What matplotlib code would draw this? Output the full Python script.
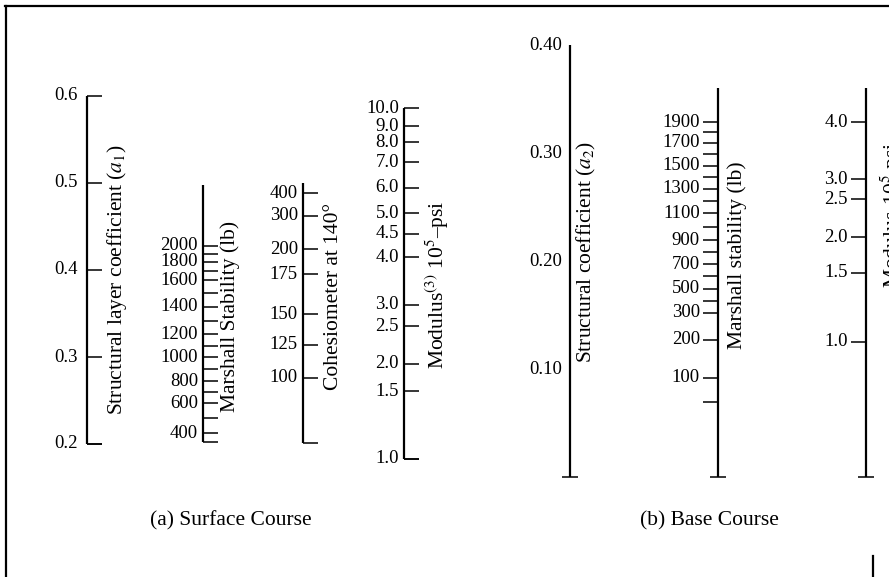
import numpy as np
import matplotlib.pyplot as plt
from matplotlib.lines import Line2D

plt.rcParams['font.family'] = ['Liberation Serif', 'DejaVu Serif']
plt.rcParams['mathtext.fontset'] = 'stix'

# ---- (a) surface course: every scale read against the a1 coefficient ----
a1_values = [0.2, 0.3, 0.4, 0.5, 0.6]

ms_a_values = [2000, 1800, 1600, 1400, 1200, 1000, 800, 600, 400]
ms_a_coef = [0.4276, 0.4092, 0.3885, 0.3575, 0.3264, 0.3000, 0.2724, 0.2471, 0.2126]
ms_a_minor = [1900, 1700, 1500, 1300, 1100, 900, 700, 500]

coh_values = [400, 300, 200, 175, 150, 125, 100]
coh_coef = [0.4885, 0.4621, 0.4241, 0.3954, 0.3494, 0.3138, 0.2759]

mod_a_labels = ['10.0', '9.0', '8.0', '7.0', '6.0', '5.0', '4.5', '4.0', '3.0', '2.5', '2.0', '1.5', '1.0']
mod_a_coef = [0.5862, 0.5655, 0.5471, 0.5241, 0.4943, 0.4655, 0.4414, 0.4149,
              0.3598, 0.3356, 0.2920, 0.2609, 0.1828]

# ---- (b) base course: every scale read against the a2 coefficient ----
a2_values = [0.10, 0.20, 0.30, 0.40]

ms_b_labels = ['1900', '1700', '1500', '1300', '1100', '900', '700', '500', '300', '200', '100', '']
ms_b_values = [1900, 1700, 1500, 1300, 1100, 900, 700, 500, 300, 200, 100, 0]
ms_b_coef = [0.3287, 0.3093, 0.2880, 0.2667, 0.2444, 0.2194, 0.1972, 0.1741,
             0.1519, 0.1269, 0.0917, 0.0694]
ms_b_minor = [1800, 1600, 1400, 1200, 1000, 800, 600, 400]

mod_b_labels = ['4.0', '3.0', '2.5', '2.0', '1.5', '1.0']
mod_b_coef = [0.3287, 0.2759, 0.2574, 0.2222, 0.1889, 0.1250]


def scale_pos(vals, known_vals, known_coef):
    order = np.argsort(known_vals)
    return np.interp(vals, np.array(known_vals)[order], np.array(known_coef)[order])


fig = plt.figure(figsize=(8.89, 5.77), dpi=100)
ax_a = fig.add_axes([0, 0, 1, 1])
ax_b = fig.add_axes([0, 0, 1, 1])
for ax in (ax_a, ax_b):
    ax.set_xlim(0, 889)
    ax.axis('off')
    ax.patch.set_alpha(0)
# a1: 0.6 -> 96 px, 0.2 -> 444 px ; a2: 0.40 -> 45 px, 0.10 -> 368 px
ax_a.set_ylim(0.6 - 481 / 870, 0.6 + 96 / 870)
ax_b.set_ylim(0.4 - 532 / 1080, 0.4 + 45 / 1080)

FS = 13.5     # tick numbers
FS_T = 15.5   # scale titles and captions
LW_SPINE = 1.6
LW_TICK = 1.1


def draw_scale(ax, x, top, bottom, pos, labels, tick_side=1, ticklen=15,
               minor=None, cap='side', label_gap=5):
    ax.plot([x, x], [bottom, top], color='k', lw=LW_SPINE, solid_capstyle='butt')
    ax.hlines(pos, x, x + tick_side * ticklen, color='k', lw=LW_TICK)
    if minor is not None:
        ax.hlines(minor, x, x + tick_side * ticklen, color='k', lw=LW_TICK)
    if cap == 'center':
        ax.hlines([bottom], x - 8, x + 8, color='k', lw=LW_TICK)
    elif cap == 'side':
        ax.hlines([bottom], x, x + tick_side * ticklen, color='k', lw=LW_TICK)
    lx = x - label_gap if tick_side > 0 else x - ticklen - label_gap + 2
    for p, lab in zip(pos, labels):
        ax.text(lx, p, lab, ha='right', va='center', fontsize=FS)


# (a) Surface course
draw_scale(ax_a, 87, 0.6, 0.2, a1_values, ['%.1f' % v for v in a1_values], label_gap=9)
ax_a.text(117, 0.3885, r'Structural layer coefficient ($a_1$)', rotation=90,
          ha='center', va='center', fontsize=FS_T)

draw_scale(ax_a, 203, 0.4977, 0.2023, ms_a_coef, [str(v) for v in ms_a_values],
           minor=scale_pos(ms_a_minor, ms_a_values, ms_a_coef))
ax_a.text(230, 0.347, 'Marshall Stability (lb)', rotation=90,
          ha='center', va='center', fontsize=FS_T)

draw_scale(ax_a, 303, 0.5, 0.2011, coh_coef, [str(v) for v in coh_values])
ax_a.text(333, 0.369, 'Cohesiometer at 140°', rotation=90,
          ha='center', va='center', fontsize=FS_T)

draw_scale(ax_a, 404, mod_a_coef[0], mod_a_coef[-1], mod_a_coef, mod_a_labels)
ax_a.text(437, 0.383, r'Modulus$^{(3)}$ 10$^5$–psi', rotation=90,
          ha='center', va='center', fontsize=FS_T)

# (b) Base course
draw_scale(ax_b, 570, 0.40, 0.0, a2_values, ['%.2f' % v for v in a2_values],
           ticklen=0, cap='center', label_gap=8)
ax_b.text(586, 0.2083, r'Structural coefficient ($a_2$)', rotation=90,
          ha='center', va='center', fontsize=FS_T)

draw_scale(ax_b, 718, 0.360, 0.0, ms_b_coef, ms_b_labels, tick_side=-1,
           minor=scale_pos(ms_b_minor, ms_b_values, ms_b_coef), cap='center')
ax_b.text(737, 0.2056, 'Marshall stability (lb)', rotation=90,
          ha='center', va='center', fontsize=FS_T)

draw_scale(ax_b, 866, 0.360, 0.0, mod_b_coef, mod_b_labels, tick_side=-1, cap='center')
ax_b.text(878, 0.2426, r'Modulus-10$^5$ psi', rotation=90,
          ha='left', va='center', fontsize=FS_T)

# captions
fig.text(231 / 889, 1 - 521 / 577, '(a) Surface Course', ha='center', va='center', fontsize=FS_T)
fig.text(709 / 889, 1 - 521 / 577, '(b) Base Course', ha='center', va='center', fontsize=FS_T)

# page frame fragments
fig.add_artist(Line2D([5 / 889, 1], [1 - 6 / 577, 1 - 6 / 577], color='k', lw=1.6,
                      transform=fig.transFigure))
fig.add_artist(Line2D([6 / 889, 6 / 889], [0, 1 - 6 / 577], color='k', lw=1.6,
                      transform=fig.transFigure))
fig.add_artist(Line2D([873 / 889, 873 / 889], [0, 1 - 556 / 577], color='k', lw=1.6,
                      transform=fig.transFigure))

fig.savefig('out.png', dpi=100)
